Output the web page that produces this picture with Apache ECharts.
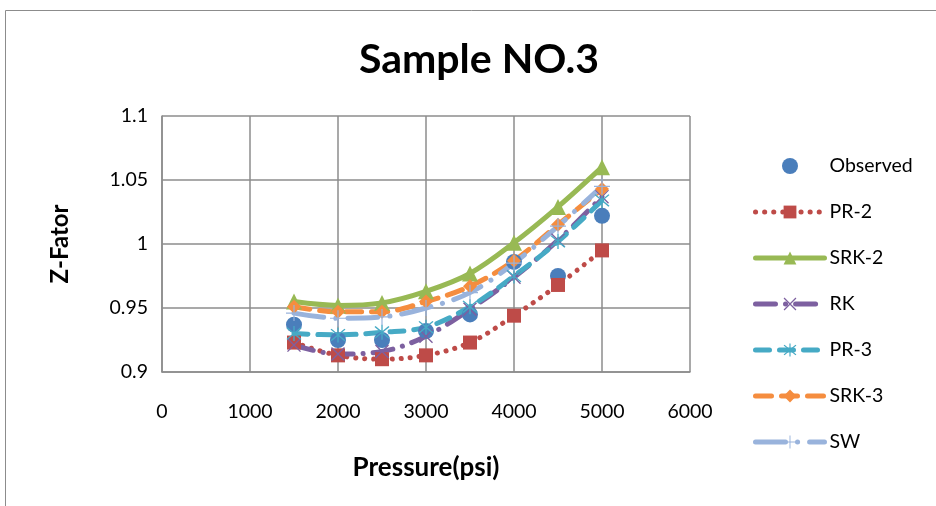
<!DOCTYPE html>
<html>
<head>
<meta charset="utf-8">
<script src="https://cdn.jsdelivr.net/npm/echarts@6/dist/echarts.min.js"></script>
<style>
  html, body { margin: 0; padding: 0; background: #fff; }
  #chart { width: 936px; height: 506px; }
</style>
</head>
<body>
<div id="chart"></div>
<script>
// Pressure steps (psi) and Z-factor values per correlation
const pressure = [1500, 2000, 2500, 3000, 3500, 4000, 4500, 5000];
const observed = [0.937, 0.925, 0.925, 0.932, 0.945, 0.986, 0.975, 1.022];
const pr2  = [0.923, 0.913, 0.910, 0.913, 0.923, 0.944, 0.968, 0.995];
const srk2 = [0.955, 0.952, 0.954, 0.963, 0.977, 1.001, 1.029, 1.060];
const rk   = [0.921, 0.914, 0.916, 0.928, 0.949, 0.974, 1.003, 1.037];
const pr3  = [0.930, 0.929, 0.931, 0.935, 0.951, 0.975, 1.002, 1.034];
const srk3 = [0.951, 0.947, 0.947, 0.955, 0.967, 0.987, 1.015, 1.043];
const sw   = [0.946, 0.942, 0.943, 0.950, 0.962, 0.985, 1.014, 1.045];

const xTicks = [0, 1000, 2000, 3000, 4000, 5000, 6000];
const yTicks = [0.9, 0.95, 1, 1.05, 1.1];

const FONT = 'Lato, "Open Sans", sans-serif';
const LINE_W = 5;

// stroked marker shapes built as thin filled bars
const X_PATH = 'path://M-10,-8.6 L-8.6,-10 L10,8.6 L8.6,10 Z M8.6,-10 L10,-8.6 L-8.6,10 L-10,8.6 Z';
const STAR_PATH = 'path://M-10,-8.6 L-8.6,-10 L10,8.6 L8.6,10 Z M8.6,-10 L10,-8.6 L-8.6,10 L-10,8.6 Z M-0.9,-12 L0.9,-12 L0.9,12 L-0.9,12 Z';
const PLUS_PATH = 'path://M-0.9,-12 L0.9,-12 L0.9,12 L-0.9,12 Z M-12,-0.9 L12,-0.9 L12,0.9 L-12,0.9 Z';

function pairs(vals) {
  return pressure.map((p, i) => [p, vals[i]]);
}

function lineSeries(name, vals, color, dash, symbol, size) {
  return {
    name: name,
    type: 'line',
    smooth: 0.35,
    data: pairs(vals),
    symbol: symbol,
    symbolSize: size,
    showSymbol: true,
    itemStyle: { color: color, opacity: 1 },
    lineStyle: { color: color, width: LINE_W, type: dash, cap: 'round' }
  };
}

const chart = echarts.init(document.getElementById('chart'));

chart.setOption({
  animation: false,
  backgroundColor: '#fff',
  graphic: [{
    type: 'rect',
    shape: { x: 5.5, y: 10.5, width: 1000, height: 600 },
    style: { fill: 'none', stroke: '#8c8c8c', lineWidth: 1 },
    silent: true
  }],
  title: {
    text: 'Sample NO.3',
    left: 474,
    textAlign: 'center',
    top: 34,
    textStyle: { fontFamily: FONT, fontWeight: 'bold', fontSize: 41, color: '#000' }
  },
  grid: { left: 162, right: 246, top: 116, bottom: 134 },
  xAxis: {
    type: 'value',
    min: xTicks[0],
    max: xTicks[xTicks.length - 1],
    interval: 1000,
    name: 'Pressure(psi)',
    nameLocation: 'middle',
    nameGap: 83,
    nameTextStyle: { fontFamily: FONT, fontWeight: 'bold', fontSize: 26, color: '#000' },
    axisLine: { show: true, lineStyle: { color: '#8c8c8c', width: 1.5 } },
    axisTick: { show: false },
    axisLabel: { fontFamily: FONT, fontSize: 19.5, color: '#000', margin: 30, formatter: v => String(v) },
    splitLine: { show: true, lineStyle: { color: '#8c8c8c', width: 1.5 } }
  },
  yAxis: {
    type: 'value',
    min: yTicks[0],
    max: yTicks[yTicks.length - 1],
    interval: 0.05,
    name: 'Z-Fator',
    nameLocation: 'middle',
    nameRotate: 90,
    nameGap: 90,
    nameTextStyle: { fontFamily: FONT, fontWeight: 'bold', fontSize: 24, color: '#000' },
    axisLine: { show: true, lineStyle: { color: '#8c8c8c', width: 1.5 } },
    axisTick: { show: false },
    axisLabel: { fontFamily: FONT, fontSize: 19.5, color: '#000', margin: 14, formatter: v => String(v) },
    splitLine: { show: true, lineStyle: { color: '#8c8c8c', width: 1.5 } }
  },
  legend: {
    orient: 'vertical',
    left: 748,
    top: 151,
    itemWidth: 69,
    itemHeight: 16,
    itemGap: 26,
    lineStyle: { width: LINE_W },
    textStyle: { fontFamily: FONT, fontSize: 19.5, color: '#000' },
    data: ['Observed', 'PR-2', 'SRK-2', 'RK', 'PR-3', 'SRK-3', 'SW']
  },
  series: [
    {
      name: 'Observed',
      type: 'scatter',
      data: pairs(observed),
      symbol: 'circle',
      symbolSize: 16,
      itemStyle: { color: '#4a7ebb', opacity: 1 },
      z: 3
    },
    lineSeries('PR-2', pr2, '#be4b48', [0.1, 9], 'rect', 14),
    lineSeries('SRK-2', srk2, '#98b954', 'solid', 'triangle', 16),
    lineSeries('RK', rk, '#7d60a0', [20, 10, 0.1, 10], X_PATH, 14),
    lineSeries('PR-3', pr3, '#46aac5', [14, 10], STAR_PATH, 15),
    lineSeries('SRK-3', srk3, '#f58d3f', [16, 10], 'diamond', 14),
    lineSeries('SW', sw, '#99b3dc', [30, 12, 0.1, 12], PLUS_PATH, 16)
  ]
});
</script>
</body>
</html>
